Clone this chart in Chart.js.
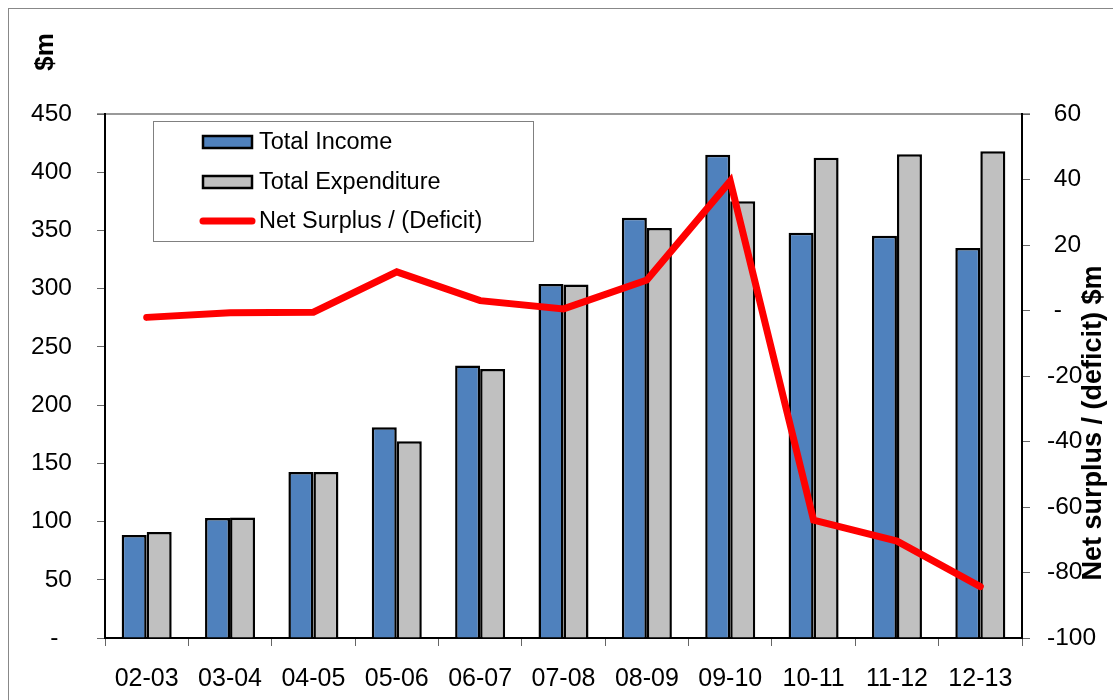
<!DOCTYPE html>
<html>
<head>
<meta charset="utf-8">
<script src="https://cdn.jsdelivr.net/npm/chart.js@4.4.0/dist/chart.umd.min.js"></script>
<style>
  html, body { margin: 0; padding: 0; background: #fff; overflow: hidden; }
  #wrap { position: relative; width: 1113px; height: 700px; }
</style>
</head>
<body>
<div id="wrap"><canvas id="c" width="1113" height="700"></canvas></div>
<script>
// ---- data ----
const categories = ['02-03','03-04','04-05','05-06','06-07','07-08','08-09','09-10','10-11','11-12','12-13'];
const totalIncome = [88.5, 103, 142.5, 181, 234, 304, 361, 415, 348, 345.5, 335];
const totalExpenditure = [91, 103.5, 142.5, 169, 231, 303.5, 352, 375, 412.5, 415.5, 418];
const netSurplus = [-2.1, -0.7, -0.5, 11.8, 3, 0.5, 9.3, 39.5, -64, -70.4, -84.3];
const seriesNames = ['Total Income', 'Total Expenditure', 'Net Surplus / (Deficit)'];
const leftAxisTitle = '$m';
const rightAxisTitle = 'Net surplus / (deficit) $m';

const FONT = '"Liberation Sans", Arial, Helvetica, sans-serif';
Chart.defaults.font.family = FONT;
Chart.defaults.color = '#000';

const BLUE = '#4F81BD', GREY = '#C0C0C0', RED = '#FF0000';

const decor = {
  id: 'decor',
  beforeDraw(chart) {
    const ctx = chart.ctx, a = chart.chartArea;
    ctx.save();
    ctx.fillStyle = '#fff';
    ctx.fillRect(0, 0, chart.width, chart.height);
    // outer frame
    ctx.strokeStyle = '#888';
    ctx.lineWidth = 1;
    ctx.strokeRect(8.5, 8.5, 1300, 1300);
    // plot area top border (grey)
    ctx.strokeStyle = '#999';
    ctx.lineWidth = 2;
    ctx.beginPath();
    ctx.moveTo(a.left - 8, a.top);
    ctx.lineTo(a.right + 8, a.top);
    ctx.stroke();
    ctx.restore();
  },
  afterDraw(chart) {
    const ctx = chart.ctx;
    ctx.save();
    // axis titles
    ctx.fillStyle = '#000';
    ctx.font = 'bold 26px ' + FONT;
    ctx.textAlign = 'center';
    ctx.textBaseline = 'middle';
    ctx.translate(46, 52);
    ctx.rotate(-Math.PI / 2);
    ctx.fillText(leftAxisTitle, 0, 0);
    ctx.setTransform(1, 0, 0, 1, 0, 0);
    ctx.font = 'bold 27px ' + FONT;
    ctx.translate(1094, 423);
    ctx.rotate(-Math.PI / 2);
    ctx.fillText(rightAxisTitle, 0, 0);
    ctx.setTransform(1, 0, 0, 1, 0, 0);

    // legend
    const bx = 153, by = 121, bw = 380, bh = 120;
    ctx.fillStyle = '#fff';
    ctx.fillRect(bx, by, bw, bh);
    ctx.strokeStyle = '#808080';
    ctx.lineWidth = 1;
    ctx.strokeRect(bx + 0.5, by + 0.5, bw, bh);
    const rows = [142, 182, 221];
    const ds = chart.data.datasets;
    ctx.font = '23.5px ' + FONT;
    ctx.textAlign = 'left';
    ctx.textBaseline = 'middle';
    rows.forEach((ry, i) => {
      const d = ds.find(x => x.label === seriesNames[i]);
      if (d.type === 'line') {
        ctx.strokeStyle = d.borderColor;
        ctx.lineWidth = 7;
        ctx.lineCap = 'round';
        ctx.beginPath();
        ctx.moveTo(203, ry);
        ctx.lineTo(252, ry);
        ctx.stroke();
      } else {
        ctx.fillStyle = d.backgroundColor;
        ctx.fillRect(203, ry - 6, 49, 12);
        ctx.strokeStyle = '#000';
        ctx.lineWidth = 2.5;
        ctx.strokeRect(203, ry - 6, 49, 12);
      }
      ctx.fillStyle = '#000';
      ctx.fillText(seriesNames[i], 259, ry + 1);
    });
    ctx.restore();
  }
};

new Chart(document.getElementById('c'), {
  data: {
    labels: categories,
    datasets: [
      {
        type: 'line', label: seriesNames[2], data: netSurplus, yAxisID: 'y1',
        borderColor: RED, backgroundColor: RED, borderWidth: 7,
        pointRadius: 0, tension: 0, order: 0, borderCapStyle: 'round', borderJoinStyle: 'miter'
      },
      {
        type: 'bar', label: seriesNames[0], data: totalIncome, yAxisID: 'y',
        backgroundColor: BLUE, borderColor: '#000', borderWidth: 2.5, order: 1,
        categoryPercentage: 0.6, barPercentage: 1.0
      },
      {
        type: 'bar', label: seriesNames[1], data: totalExpenditure, yAxisID: 'y',
        backgroundColor: GREY, borderColor: '#000', borderWidth: 2.5, order: 2,
        categoryPercentage: 0.6, barPercentage: 1.0
      }
    ]
  },
  options: {
    responsive: false,
    animation: false,
    layout: { padding: { top: 114, left: 0, right: 0, bottom: 0 } },
    plugins: { legend: { display: false }, tooltip: { enabled: false }, title: { display: false } },
    scales: {
      x: {
        type: 'category', offset: true,
        grid: { display: true, drawOnChartArea: false, offset: true, tickLength: 8, color: '#666', lineWidth: 1 },
        border: { display: true, color: '#000', width: 2 },
        ticks: { font: { size: 25 }, color: '#000', padding: 18, maxRotation: 0, autoSkip: false },
        afterFit(s) { s.height = 62; }
      },
      y: {
        position: 'left', min: 0, max: 450,
        grid: { display: true, drawOnChartArea: false, tickLength: 8, color: '#666', lineWidth: 1 },
        border: { display: true, color: '#000', width: 2 },
        ticks: { stepSize: 50, font: { size: 24.5 }, color: '#000', padding: 25,
          callback: v => v === 0 ? '-  ' : String(v) },
        afterFit(s) { s.width = 105; }
      },
      y1: {
        position: 'right', min: -100, max: 60,
        grid: { display: true, drawOnChartArea: false, tickLength: 8, color: '#666', lineWidth: 1 },
        border: { display: true, color: '#000', width: 2 },
        ticks: { stepSize: 20, font: { size: 24.5 }, color: '#000', padding: 17,
          callback: v => v === 0 ? ' -' : (v > 0 ? ' ' + v : String(v)) },
        afterFit(s) { s.width = 91; }
      }
    }
  },
  plugins: [decor]
});
</script>
</body>
</html>
